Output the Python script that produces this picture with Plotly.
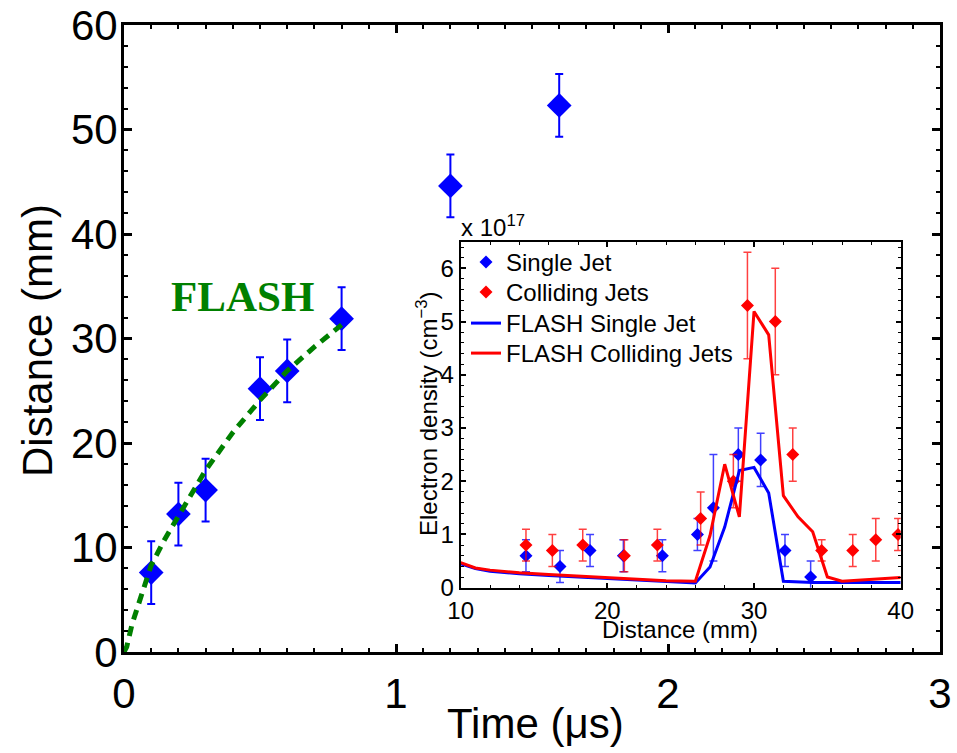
import plotly.graph_objects as go

# ---- Main panel data: jet front distance vs time ----
time_us = [0.1, 0.2, 0.3, 0.5, 0.6, 0.8, 1.2, 1.6]
distance_mm = [7.6, 13.2, 15.5, 25.2, 26.9, 31.9, 44.6, 52.3]
distance_err = [3.0, 3.0, 3.0, 3.0, 3.0, 3.0, 3.0, 3.0]

flash_time = [0, 0.01, 0.03, 0.06, 0.1, 0.15, 0.2, 0.3, 0.4, 0.5, 0.6, 0.7, 0.8]
flash_dist = [0, 0.5, 2.7, 5.1, 8.3, 10.8, 13.0, 17.4, 21.0, 24.1, 26.9, 29.2, 31.3]

# ---- Inset data: electron density (x 1e17 cm^-3) vs distance ----
single_x = [14.45, 16.77, 18.82, 21.09, 23.75, 26.14, 27.23, 28.93, 30.45, 32.11, 33.86]
single_y = [0.6, 0.4, 0.7, 0.6, 0.6, 1.0, 1.5, 2.5, 2.4, 0.7, 0.2]
single_err = [0.3, 0.3, 0.3, 0.3, 0.3, 0.3, 1.0, 0.5, 0.5, 0.3, 0.3]

coll_x = [14.45, 16.25, 18.32, 21.16, 23.41, 26.36, 28.59, 29.55, 31.45, 32.64, 34.61, 36.73, 38.3, 39.82]
coll_y = [0.8, 0.7, 0.8, 0.6, 0.8, 1.3, 2.0, 5.3, 5.0, 2.5, 0.7, 0.7, 0.9, 1.0]
coll_err = [0.3, 0.3, 0.3, 0.3, 0.3, 0.5, 0.5, 1.0, 1.0, 0.5, 0.2, 0.3, 0.4, 0.3]

fsingle_x = [10, 11, 12, 14, 16, 18, 20, 22, 24, 26, 27, 28, 29, 30, 31, 32, 34, 36, 38, 40]
fsingle_y = [0.45, 0.36, 0.31, 0.26, 0.23, 0.20, 0.17, 0.14, 0.11, 0.09, 0.39, 1.14, 2.2, 2.26, 1.78, 0.12, 0.1, 0.1, 0.1, 0.1]

fcoll_x = [10, 11, 12, 14, 16, 18, 20, 22, 24, 26, 27, 28, 29, 30, 31, 32, 33, 34, 35, 36, 38, 40]
fcoll_y = [0.47, 0.37, 0.33, 0.28, 0.25, 0.22, 0.19, 0.16, 0.13, 0.12, 0.98, 2.32, 1.33, 5.19, 4.75, 1.73, 1.33, 1.05, 0.2, 0.12, 0.15, 0.19]

BLUE = "rgb(0,0,255)"
RED = "rgb(255,0,0)"
GREEN = "rgb(0,128,0)"
FONT = "Liberation Sans, Arial, Helvetica, sans-serif"

# plot-area pixel geometry (used only to place labels in paper coordinates)
L, R, T, B = 124, 940, 25, 652
W, H = R - L, B - T


def px(xp):
    return (xp - L) / W


def py(yp):
    return (B - yp) / H


fig = go.Figure()

# main panel
fig.add_trace(go.Scatter(
    x=time_us, y=distance_mm, mode="markers", showlegend=False,
    marker=dict(symbol="diamond", size=19, color=BLUE),
    error_y=dict(type="data", array=distance_err, color=BLUE, thickness=2, width=4),
    xaxis="x", yaxis="y"))
fig.add_trace(go.Scatter(
    x=flash_time, y=flash_dist, mode="lines", showlegend=False,
    line=dict(color=GREEN, width=5, dash="10px,7px"),
    xaxis="x", yaxis="y"))

# inset
fig.add_trace(go.Scatter(
    x=single_x, y=single_y, mode="markers", name="Single Jet", legend="legend",
    marker=dict(symbol="diamond", size=10, color=BLUE),
    error_y=dict(type="data", array=single_err, color="rgba(0,0,255,0.75)", thickness=1.5, width=4),
    xaxis="x2", yaxis="y2"))
fig.add_trace(go.Scatter(
    x=coll_x, y=coll_y, mode="markers", name="Colliding Jets", legend="legend2",
    marker=dict(symbol="diamond", size=10, color=RED),
    error_y=dict(type="data", array=coll_err, color="rgba(255,0,0,0.75)", thickness=1.5, width=4),
    xaxis="x2", yaxis="y2"))
fig.add_trace(go.Scatter(
    x=fsingle_x, y=fsingle_y, mode="lines", name="FLASH Single Jet", legend="legend3",
    line=dict(color=BLUE, width=3),
    xaxis="x2", yaxis="y2"))
fig.add_trace(go.Scatter(
    x=fcoll_x, y=fcoll_y, mode="lines", name="FLASH Colliding Jets", legend="legend4",
    line=dict(color=RED, width=3),
    xaxis="x2", yaxis="y2"))

main_axis = dict(showline=True, linecolor="black", linewidth=3, mirror="allticks",
                 ticks="inside", ticklen=8, tickwidth=2.5, tickcolor="black",
                 showgrid=False, zeroline=False, automargin=False,
                 tickfont=dict(family=FONT, size=42, color="black"))
inset_axis = dict(showline=True, linecolor="black", linewidth=2, mirror="allticks",
                  ticks="inside", ticklen=5, tickwidth=1.5, tickcolor="black",
                  showgrid=False, zeroline=False, automargin=False,
                  tickfont=dict(family=FONT, size=24, color="black"))


def legend_at(center_y):
    return dict(x=px(466), y=py(center_y - 22), xanchor="left", yanchor="top",
                bgcolor="rgba(0,0,0,0)", borderwidth=0,
                font=dict(family=FONT, size=24, color="black"), itemwidth=30)


fig.update_layout(
    width=957, height=753,
    margin=dict(l=L, r=957 - R, t=T, b=753 - B, autoexpand=False),
    paper_bgcolor="white", plot_bgcolor="white",
    font=dict(family=FONT, color="black"),
    xaxis=dict(main_axis, range=[0, 3], tickvals=[0, 1, 2, 3], ticklabelstandoff=3,
               minor=dict(dtick=0.1, ticks="inside", ticklen=4, tickwidth=2, tickcolor="black"),
               domain=[0, 1]),
    yaxis=dict(main_axis, range=[0, 60], dtick=10, ticklabelstandoff=-5,
               minor=dict(dtick=2, ticks="inside", ticklen=4, tickwidth=2, tickcolor="black"),
               domain=[0, 1]),
    xaxis2=dict(inset_axis, range=[10, 40], tickvals=[10, 20, 30, 40], anchor="y2",
                minor=dict(dtick=2, ticks="inside", ticklen=3, tickwidth=1.2, tickcolor="black"),
                domain=[px(460.7), px(900.7)]),
    yaxis2=dict(inset_axis, range=[0, 6.5], tickvals=[0, 1, 2, 3, 4, 5, 6], anchor="x2",
                minor=dict(dtick=0.2, ticks="inside", ticklen=3, tickwidth=1.2, tickcolor="black"),
                domain=[py(587.7), py(241.7)]),
    legend=legend_at(262),
    legend2=legend_at(292),
    legend3=legend_at(323),
    legend4=legend_at(353),
    showlegend=True,
    annotations=[
        dict(text="Time (μs)", x=px(535), y=py(723), xref="paper", yref="paper", showarrow=False,
             font=dict(family=FONT, size=42, color="black"), xanchor="center", yanchor="middle"),
        dict(text="Distance (mm)", x=px(37), y=py(341), xref="paper", yref="paper", showarrow=False,
             textangle=-90, font=dict(family=FONT, size=42, color="black"),
             xanchor="center", yanchor="middle"),
        dict(text="Distance (mm)", x=px(680), y=py(629), xref="paper", yref="paper", showarrow=False,
             font=dict(family=FONT, size=24, color="black"), xanchor="center", yanchor="middle"),
        dict(text="Electron density (cm<sup>−3</sup>)", x=px(427), y=py(414), xref="paper", yref="paper",
             showarrow=False, textangle=-90, font=dict(family=FONT, size=24, color="black"),
             xanchor="center", yanchor="middle"),
        dict(text="<b>FLASH</b>", x=px(242), y=py(296), xref="paper", yref="paper", showarrow=False,
             font=dict(family="Liberation Serif, Times New Roman, serif", size=43, color=GREEN),
             xanchor="center", yanchor="middle"),
        dict(text="x 10<sup>17</sup>", x=px(459), y=py(243), xref="paper", yref="paper", showarrow=False,
             font=dict(family=FONT, size=24, color="black"), xanchor="left", yanchor="bottom"),
    ],
)

fig.write_html("out.html", config={"displayModeBar": False},
               post_script="document.body.style.margin='0px';")
